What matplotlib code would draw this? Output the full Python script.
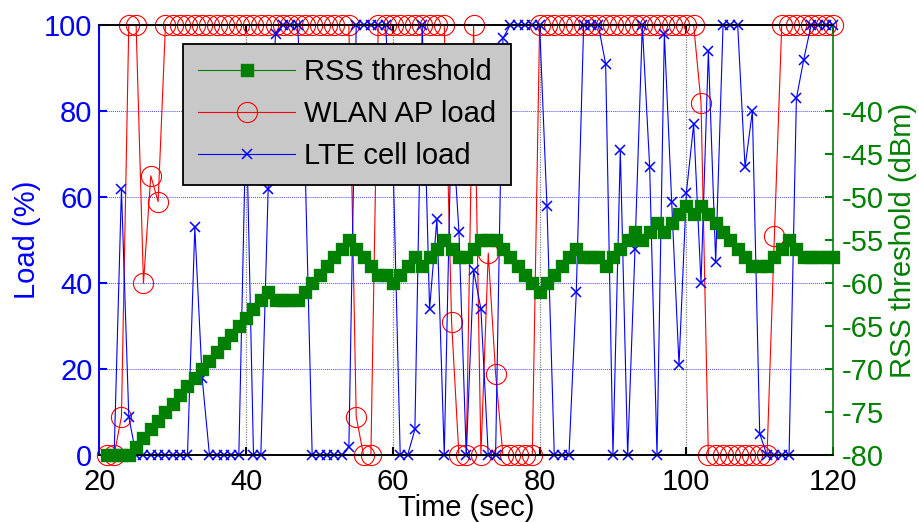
import numpy as np
import matplotlib
matplotlib.use("Agg")
import matplotlib.pyplot as plt

plt.rcParams['font.family'] = ['Liberation Sans', 'DejaVu Sans']
plt.rcParams['axes.unicode_minus'] = False

# ---------------- data ----------------
time_sec = list(range(21, 121))

rss_threshold = [
    -80, -80, -80, -80, -79, -78, -77, -76, -75, -74,
    -73, -72, -71, -70, -69, -68, -67, -66, -65, -64,
    -63, -62, -61, -62, -62, -62, -62, -61, -60, -59,
    -58, -57, -56, -55, -56, -57, -58, -59, -59, -60,
    -59, -58, -57, -58, -57, -56, -55, -56, -57, -57,
    -56, -55, -55, -55, -56, -57, -58, -59, -60, -61,
    -60, -59, -58, -57, -56, -57, -57, -57, -58, -57,
    -56, -55, -54, -55, -54, -53, -54, -53, -52, -51,
    -52, -51, -52, -53, -54, -55, -56, -57, -58, -58,
    -58, -57, -56, -55, -56, -57, -57, -57, -57, -57,
]

wlan_load = [
    0, 0, 9, 100, 100, 40, 65, 59, 100, 100,
    100, 100, 100, 100, 100, 100, 100, 100, 100, 100,
    100, 100, 100, 100, 100, 100, 100, 100, 100, 100,
    100, 100, 100, 100, 9, 0, 0, 100, 100, 100,
    100, 100, 100, 100, 100, 100, 100, 31, 0, 0,
    100, 0, 47, 19, 0, 0, 0, 0, 0, 100,
    100, 100, 100, 100, 100, 100, 100, 100, 100, 100,
    100, 100, 100, 100, 100, 100, 100, 100, 100, 100,
    100, 82, 0, 0, 0, 0, 0, 0, 0, 0,
    0, 51, 100, 100, 100, 100, 100, 100, 100, 100,
]

lte_load = [
    0, 0, 62, 9, 0, 0, 0, 0, 0, 0,
    0, 0, 53, 18, 0, 0, 0, 0, 0, 80,
    0, 0, 62, 98, 100, 100, 100, 70, 0, 0,
    0, 0, 0, 2, 100, 100, 100, 100, 100, 70,
    0, 0, 6, 100, 34, 55, 0, 80, 52, 0,
    43, 34, 0, 0, 97, 100, 100, 100, 100, 100,
    58, 0, 0, 0, 38, 100, 100, 100, 91, 0,
    71, 0, 48, 100, 67, 0, 98, 59, 21, 61,
    77, 40, 94, 45, 100, 100, 100, 67, 80, 5,
    0, 0, 0, 0, 83, 92, 100, 100, 100, 100,
]

x_ticks = [20, 40, 60, 80, 100, 120]
load_ticks = [0, 20, 40, 60, 80, 100]
rss_ticks = [-80, -75, -70, -65, -60, -55, -50, -45, -40]
legend_labels = ['RSS threshold', 'WLAN AP load', 'LTE cell load']

# ---------------- figure ----------------
GREEN = (0, 0.5, 0)
FS = 21

fig = plt.figure(figsize=(9.19, 5.22), dpi=100)
ax = fig.add_axes([0.1082, 0.1278, 0.7983, 0.8238])

l_wlan, = ax.plot(time_sec, wlan_load, color='red', lw=0.8, marker='o', ms=14.5,
                  mfc='none', mec='red', mew=0.8, clip_on=False, zorder=3)
l_lte, = ax.plot(time_sec, lte_load, color='blue', lw=0.8, marker='x', ms=7,
                 mew=1.1, clip_on=False, zorder=4)

ax.set_xlim(20, 120)
ax.set_ylim(0, 100)
ax.set_xticks(x_ticks)
ax.set_yticks(load_ticks)
ax.grid(axis='x', color='0.5', ls=(0, (1, 1)), lw=0.9)
ax.grid(axis='y', color='blue', ls=(0, (1, 1)), lw=0.7, alpha=0.7)
ax.set_axisbelow(True)

ax.tick_params(axis='x', direction='in', top=True, length=6, width=1.5,
               labelsize=FS, colors='black', pad=9)
ax.tick_params(axis='y', direction='in', length=6, width=1.5,
               labelsize=FS, colors='blue', pad=5)
ax.spines['left'].set_color('blue')
ax.spines['right'].set_visible(False)
for s in ax.spines.values():
    s.set_linewidth(1.2)

ax.set_xlabel('Time (sec)', fontsize=FS, labelpad=-1)
ax.set_ylabel('Load (%)', fontsize=FS, color='blue', labelpad=2)

ax2 = ax.twinx()
l_rss, = ax2.plot(time_sec, rss_threshold, color=GREEN, lw=0.8, marker='s', ms=7.5,
                  mfc=GREEN, mec=GREEN, mew=2.4, clip_on=False, zorder=5)
l_rss.set_markeredgewidth(2.4)
ax2.set_ylim(-80, -30)
ax2.set_yticks(rss_ticks)
ax2.tick_params(axis='y', direction='in', length=6, width=1.5,
                labelsize=FS, colors=GREEN, pad=6)
ax2.spines['right'].set_color(GREEN)
ax2.spines['left'].set_color('blue')
for s in ax2.spines.values():
    s.set_linewidth(1.2)
ax2.set_ylabel('RSS threshold (dBm)', fontsize=FS, color=GREEN, labelpad=4)

leg = ax2.legend([l_rss, l_wlan, l_lte], legend_labels, loc='upper left',
                 bbox_to_anchor=(0.114, 0.957), borderaxespad=0, fontsize=FS,
                 handlelength=3.35, handletextpad=0.3, borderpad=0.5,
                 labelspacing=0.48, fancybox=False, framealpha=1,
                 facecolor='#c8c8c8', edgecolor='black')
leg.get_frame().set_linewidth(1.3)

fig.savefig('out.png', dpi=100)
